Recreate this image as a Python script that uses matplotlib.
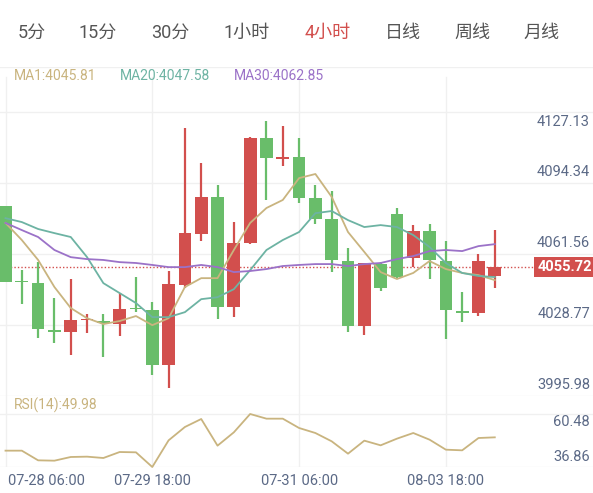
import matplotlib
matplotlib.use("Agg")
import matplotlib.pyplot as plt
from matplotlib.patches import Rectangle
import numpy as np

plt.rcParams['font.family'] = ['Roboto', 'Noto Sans CJK SC', 'DejaVu Sans']

opens  = [4083.7,4049.0,4048.1,4026.3,4025.5,4031.0,4030.5,4029.2,4036.8,4035.7,4010.2,4047.2,4070.8,4087.9,4037.0,4066.6,
          4115.1,4105.6,4106.3,4087.4,4077.7,4058.3,4028.3,4056.9,4080.0,4059.7,4072.2,4058.3,4035.3,4034.4,4051.4]
closes = [4048.6,4048.5,4026.9,4025.5,4031.0,4031.5,4029.8,4036.1,4036.0,4010.2,4047.7,4071.2,4087.9,4037.0,4066.6,4115.1,
          4105.9,4106.0,4087.4,4077.7,4058.8,4028.3,4057.4,4045.8,4050.9,4072.2,4058.8,4035.7,4034.5,4058.3,4055.72]
highs  = [4083.7,4054.1,4057.8,4041.2,4050.0,4033.8,4033.8,4043.5,4050.9,4039.4,4053.7,4119.7,4103.6,4093.4,4076.3,4115.6,
          4123.0,4120.7,4115.1,4093.4,4090.6,4064.3,4057.4,4057.8,4082.8,4075.0,4075.4,4067.5,4044.0,4061.5,4072.6]
lows   = [4048.6,4038.4,4022.7,4020.4,4014.9,4025.0,4014.0,4023.7,4034.8,4005.7,3999.6,4045.8,4067.5,4031.5,4032.4,4066.1,
          4086.5,4102.2,4085.1,4075.4,4053.2,4025.5,4024.1,4044.4,4050.4,4055.5,4050.0,4022.3,4030.1,4033.0,4045.8]
ma1  = [4075.9,4068.0,4058.8,4046.3,4036.6,4031.9,4029.2,4030.6,4032.9,4028.7,4031.9,4046.3,4050.4,4050.4,4063.4,4075.9,
        4082.8,4086.5,4096.6,4098.5,4087.9,4071.7,4062.5,4053.2,4050.0,4052.8,4058.3,4054.6,4052.8,4051.8,4049.5]
ma20 = [4078.1,4076.3,4073.1,4071.2,4069.4,4060.1,4048.1,4043.5,4038.9,4032.4,4032.4,4034.7,4040.7,4041.6,4045.3,4054.1,
        4063.4,4068.0,4071.7,4080.4,4081.4,4077.2,4074.0,4074.9,4074.0,4070.3,4064.8,4057.4,4052.8,4051.4,4050.9]
ma30 = [4075.9,4072.6,4069.4,4063.4,4060.1,4059.2,4058.8,4057.8,4057.4,4056.5,4055.5,4055.5,4056.5,4055.5,4053.2,4053.7,
        4054.6,4056.0,4056.5,4056.9,4056.9,4056.0,4056.9,4057.4,4059.2,4060.6,4062.9,4063.4,4062.9,4065.2,4066.1]
rsi  = [44.14,44.14,39.83,39.68,41.32,41.47,40.87,43.54,43.40,36.86,48.74,54.69,58.25,46.37,52.31,60.48,
        58.40,58.40,54.24,52.01,48.30,42.80,48.60,46.52,49.49,52.01,49.04,44.58,44.29,49.78,50.08]
price_ticks = [4127.13, 4094.34, 4061.56, 4028.77, 3995.98]
rsi_ticks = [60.48, 36.86]
xlabel_idx = [0, 9, 18, 27]
xlabels = ["07-28 06:00", "07-29 18:00", "07-31 06:00", "08-03 18:00"]
tabs = ["5分", "15分", "30分", "1小时", "4小时", "日线", "周线", "月线"]
tab_x = [32, 98, 170, 247, 328, 403, 472, 541]
ma_texts = ["MA1:4045.81", "MA20:4047.58", "MA30:4062.85"]
rsi_text = "RSI(14):49.98"

RED = "#d24f4d"; GREEN = "#69bd6a"
C_MA1 = "#c9b47f"; C_MA20 = "#6db3a3"; C_MA30 = "#9b72c8"
LBL = "#5b6986"; GRID = "#f0f0f0"

W, H = 593, 493
fig = plt.figure(figsize=(W/100, H/100), dpi=100)
xl = (-5.5/16.31, (593-5.5)/16.31)

ax = fig.add_axes([0, (H-396)/H, 1, 329/H])
ax.set_xlim(*xl)
ax.set_ylim(3995.98, 4127.13 + 45*0.4618)
ax.axis('off')
for v in price_ticks:
    ax.axhline(v, color=GRID, lw=1, zorder=0)
ax.axhline(4127.13 + 45*0.4618, color=GRID, lw=1, zorder=0)
for i in xlabel_idx:
    ax.axvline(i, ymax=0.97, color=GRID, lw=1, zorder=0)

x = np.arange(len(opens))
for i in x:
    o, c, h, l = opens[i], closes[i], highs[i], lows[i]
    col = RED if c >= o else GREEN
    ax.vlines(i, l, h, color=col, lw=1.6, zorder=2)
    bh = max(abs(c - o), 0.6)
    ax.add_patch(Rectangle((i - 0.39, min(o, c)), 0.78, bh, color=col, zorder=3, lw=0))
ax.plot(x, ma1, color=C_MA1, lw=1.3, zorder=4)
ax.plot(x, ma20, color=C_MA20, lw=1.3, zorder=4)
ax.plot(x, ma30, color=C_MA30, lw=1.3, zorder=4)
last = closes[-1]
ax.axhline(last, color=RED, lw=1, ls=(0, (1, 1.5)), zorder=1)

for k, v in enumerate(price_ticks):
    if k == 0:
        ax.text(0.995, v - 1.5, f"{v:.2f}", transform=ax.get_yaxis_transform(), ha='right', va='top', fontsize=10.5, color=LBL)
    else:
        ax.text(0.995, v + 1.8, f"{v:.2f}", transform=ax.get_yaxis_transform(), ha='right', va='bottom', fontsize=10.5, color=LBL)
ax.text(0.998, last, f"{last:.2f}", transform=ax.get_yaxis_transform(), ha='right', va='center',
        fontsize=10.5, color='white', fontweight='bold',
        bbox=dict(boxstyle='square,pad=0.2', fc=RED, ec='none'), zorder=6)

# RSI panel
ar = fig.add_axes([0, (H-467)/H, 1, 71/H])
ar.set_xlim(*xl)
ar.set_ylim(36.86, 60.48 + 18*0.4457)
ar.axis('off')
for v in rsi_ticks:
    ar.axhline(v, color=GRID, lw=1, zorder=0)
for i in xlabel_idx:
    ar.axvline(i, color=GRID, lw=1, zorder=0)
ar.plot(x, rsi, color=C_MA1, lw=1.3, clip_on=False)
ar.text(0.995, 60.48 - 0.5, f"{rsi_ticks[0]:.2f}", transform=ar.get_yaxis_transform(), ha='right', va='top', fontsize=10.5, color=LBL)
ar.text(0.995, 36.86 + 1.2, f"{rsi_ticks[1]:.2f}", transform=ar.get_yaxis_transform(), ha='right', va='bottom', fontsize=10.5, color=LBL)

# x labels
for i, lab in zip(xlabel_idx, xlabels):
    px = 5.5 + i*16.31
    ha = 'center'
    if i == 0:
        px = 8; ha = 'left'
    fig.text(px/W, 1 - 481/H, lab, ha=ha, va='center', fontsize=10.5, color=LBL)

fig.text(14/W, 1 - 405/H, rsi_text, ha='left', va='center', fontsize=10, color=C_MA1)
ma_x = [14, 120, 234]
for t, px, c in zip(ma_texts, ma_x, [C_MA1, C_MA20, C_MA30]):
    fig.text(px/W, 1 - 76/H, t, ha='left', va='center', fontsize=10, color=c)

for t, px in zip(tabs, tab_x):
    col = RED if t == "4小时" else "#555555"
    fig.text(px/W, 1 - 33/H, t, ha='center', va='center', fontsize=13, color=col)

fig.savefig("out.png", dpi=100, facecolor='white')
